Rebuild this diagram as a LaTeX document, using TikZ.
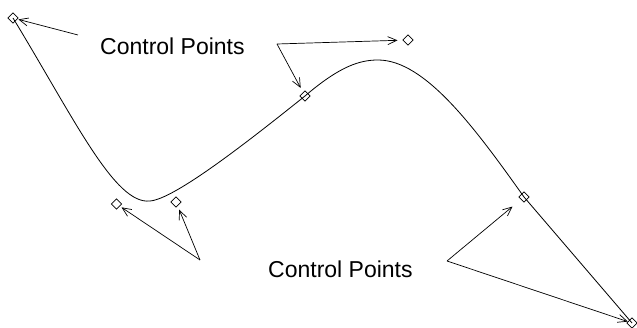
\documentclass[tikz,border=0pt]{standalone}
\usepackage{fontspec}
\setmainfont{Liberation Sans}
\usetikzlibrary{shapes.geometric,arrows.meta}
\begin{document}
\begin{tikzpicture}[x=1pt,y=-1pt,
  cp/.style={draw,shape=diamond,minimum width=10.5pt,minimum height=10.5pt,inner sep=0pt,line width=0.7pt,fill=white},
  arr/.style={-{Straight Barb[length=9pt,width=8pt]},line width=0.7pt},
  lbl/.style={font=\fontsize{23}{25}\selectfont,inner sep=0pt},
  crv/.style={line width=0.8pt}]
\useasboundingbox (0,0) rectangle (637,328);
% control points
\node[cp] (d1) at (13,18) {};
\node[cp] (d2) at (116.5,204) {};
\node[cp] (d3) at (176,202) {};
\node[cp] (d4) at (305,96) {};
\node[cp] (d5) at (408,40) {};
\node[cp] (d6) at (524,197) {};
\node[cp] (d7) at (632,323) {};
% curve
\draw[crv] (d1.center) .. controls (75,120) and (115,205) .. (150,201)
  .. controls (175,199) and (250,140) .. (d4.center)
  .. controls (340,66) and (360,60) .. (378,60)
  .. controls (425,60) and (475,128) .. (d6.center) -- (d7.center);
% labels
\node[lbl,anchor=west] (l1) at (100,46) {Control Points};
\node[lbl,anchor=west] (l2) at (268,269) {Control Points};
% arrow origins
\coordinate (s1) at (78,35);
\coordinate (s2) at (277,44);
\coordinate (s3) at (200,260);
\coordinate (s4) at (447,261);
\draw[arr,shorten >=1pt] (s1) -- (d1);
\draw[arr,shorten >=5pt] (s2) -- (d5);
\draw[arr,shorten >=5pt] (s2) -- (d4);
\draw[arr,shorten >=2pt] (s3) -- (d2);
\draw[arr,shorten >=4pt] (s3) -- (d3);
\draw[arr,shorten >=11pt] (s4) -- (d6);
\draw[arr,shorten >=0pt] (s4) -- (d7);
\end{tikzpicture}
\end{document}
